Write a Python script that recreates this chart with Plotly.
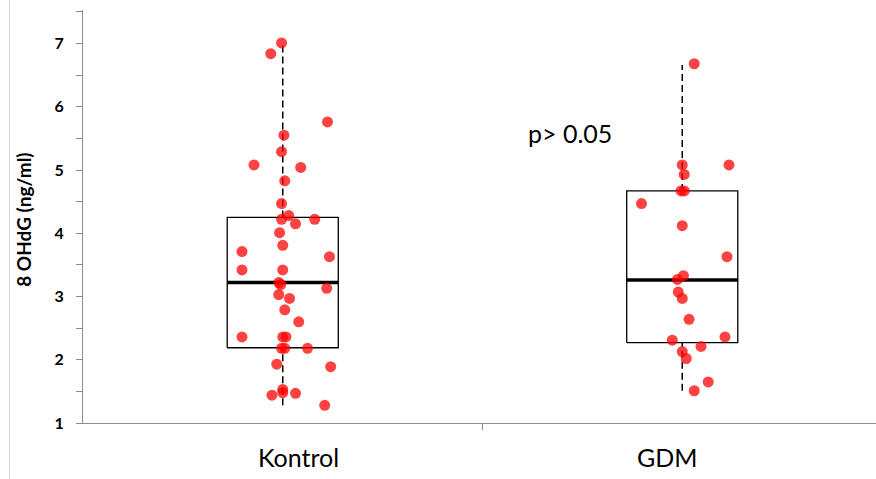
import plotly.graph_objects as go

# ---- data ----
groups = ["Kontrol", "GDM"]
kontrol_vals = [7.01, 6.84, 5.76, 5.55, 5.29, 5.08, 5.04, 4.83, 4.47,
                4.22, 4.28, 4.15, 4.22, 4.01, 3.71, 3.81, 3.63, 3.42, 3.42,
                3.22, 3.19, 3.13, 3.03, 2.97, 2.79, 2.60, 2.36, 2.36, 2.36,
                2.18, 2.18, 2.18, 1.93, 1.89, 1.53, 1.48, 1.44, 1.47, 1.28]
kontrol_jitter = [-0.003, -0.030, 0.112, 0.003, -0.003, -0.072, 0.045, 0.005, -0.003,
                  -0.003, 0.015, 0.032, 0.080, -0.008, -0.102, 0.0, 0.117, -0.102, 0.0,
                  -0.010, -0.005, 0.110, -0.010, 0.017, 0.005, 0.040, -0.102, 0.0, 0.008,
                  -0.003, 0.005, 0.062, -0.015, 0.120, 0.0, 0.0, -0.027, 0.032, 0.105]
gdm_vals = [6.68, 5.08, 5.08, 4.93, 4.67, 4.67, 4.47, 4.12, 3.63, 3.33, 3.27,
            3.07, 2.97, 2.64, 2.31, 2.36, 2.21, 2.13, 2.02, 1.65, 1.51]
gdm_jitter = [0.030, 0.0, 0.117, 0.005, -0.003, 0.005, -0.102, 0.0, 0.112, 0.003, -0.012,
              -0.010, 0.0, 0.017, -0.025, 0.107, 0.047, 0.0, 0.010, 0.065, 0.030]
q1 = [2.19, 2.27]
median = [3.22, 3.26]
q3 = [4.25, 4.67]
whisker_lo = [1.28, 1.51]
whisker_hi = [7.00, 6.66]
y_ticks = [1, 2, 3, 4, 5, 6, 7]
p_text = "p> 0.05"
y_title = "8 OHdG (ng/ml)"

FONT = "Lato"
HW = 0.139  # box half width
L, T = 83, 10
W, H = 892, 479        # slightly wider than the window so the x axis runs to the edge
PW = W - L             # plot width in px
PH = 423.3 - T         # plot height in px
XSCALE = 399.5         # px per category step

fig = go.Figure()
for i in range(2):
    c = i
    fig.add_trace(go.Scatter(x=[c - HW, c + HW, c + HW, c - HW, c - HW],
                             y=[q1[i], q1[i], q3[i], q3[i], q1[i]],
                             mode="lines", line=dict(color="black", width=1.3),
                             hoverinfo="skip", showlegend=False))
    fig.add_trace(go.Scatter(x=[c, c], y=[q3[i], whisker_hi[i]], mode="lines",
                             line=dict(color="black", width=1.5, dash="7px,4px"),
                             hoverinfo="skip", showlegend=False))
    fig.add_trace(go.Scatter(x=[c, c], y=[whisker_lo[i], q1[i]], mode="lines",
                             line=dict(color="black", width=1.5, dash="7px,4px"),
                             hoverinfo="skip", showlegend=False))
    fig.add_trace(go.Scatter(x=[c - HW, c + HW], y=[median[i], median[i]], mode="lines",
                             line=dict(color="black", width=3.5),
                             hoverinfo="skip", showlegend=False))

for i, (vals, jit) in enumerate([(kontrol_vals, kontrol_jitter), (gdm_vals, gdm_jitter)]):
    fig.add_trace(go.Scatter(x=[i + j for j in jit], y=vals, mode="markers",
                             marker=dict(color="rgba(255,0,0,0.74)", size=11, line=dict(width=0)),
                             name=groups[i], showlegend=False))

fig.update_layout(
    width=W, height=H,
    margin=dict(l=L, r=0, t=T, b=round(H - T - PH)),
    plot_bgcolor="white", paper_bgcolor="white",
    font=dict(family=FONT, color="black"),
    xaxis=dict(range=[-0.5, -0.5 + PW / XSCALE], showgrid=False, zeroline=False,
               showline=True, linecolor="#8c8c8c", linewidth=1.2,
               tickvals=[0.5], ticktext=[""], ticks="outside", ticklen=6,
               tickcolor="#8c8c8c", tickwidth=1.2),
    yaxis=dict(range=[1, 7.53], showgrid=False, zeroline=False,
               showline=True, linecolor="#8c8c8c", linewidth=1.2,
               tickvals=y_ticks, ticks="outside", ticklen=6, tickcolor="#8c8c8c",
               tickwidth=1.2, ticklabelstandoff=9,
               tickfont=dict(family=FONT, size=16, color="black", weight="bold"),
               minor=dict(dtick=0.5, tick0=1, ticks="outside", ticklen=6,
                          tickcolor="#8c8c8c", tickwidth=1.2)),
)

def px_x(px):
    return (px - L) / PW

def px_y(py):
    return (423.3 - py) / PH

fig.add_annotation(x=px_x(24), y=px_y(220), xref="paper", yref="paper",
                   text="<b>" + y_title + "</b>", textangle=-90, showarrow=False,
                   font=dict(family=FONT, size=19, color="black"),
                   xanchor="center", yanchor="middle")
fig.add_annotation(x=px_x(298), y=px_y(457), xref="paper", yref="paper", text=groups[0],
                   showarrow=False, font=dict(family=FONT, size=25, color="black"),
                   xanchor="center", yanchor="middle")
fig.add_annotation(x=px_x(667.5), y=px_y(457), xref="paper", yref="paper", text=groups[1],
                   showarrow=False, font=dict(family=FONT, size=25, color="black"),
                   xanchor="center", yanchor="middle")
fig.add_annotation(x=0.72, y=5.58, xref="x", yref="y", text=p_text, showarrow=False,
                   font=dict(family=FONT, size=25, color="black"), xanchor="center", yanchor="middle")
fig.add_shape(type="line", xref="paper", yref="paper", x0=px_x(9.5), x1=px_x(9.5),
              y0=-1, y1=2, line=dict(color="#d9d9d9", width=1))

fig.write_html("out.html", config={"displayModeBar": False},
               post_script="document.body.style.margin='0px';document.body.style.overflow='hidden';"
                           "document.documentElement.style.overflow='hidden';")
